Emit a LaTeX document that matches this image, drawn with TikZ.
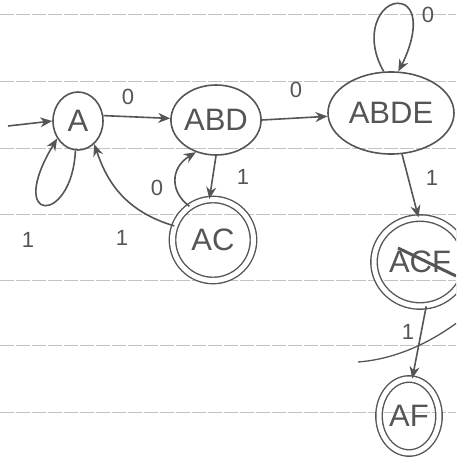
\documentclass[tikz,border=0pt]{standalone}
\usepackage{fontspec}
\setmainfont{Liberation Sans}
\usetikzlibrary{shapes.geometric,arrows.meta}
\definecolor{pencil}{RGB}{85,85,85}
\definecolor{ruled}{RGB}{195,195,195}
\tikzset{
  st/.style={draw=pencil, line width=1.6pt, shape=ellipse, inner sep=0pt, text=pencil,
    font=\fontsize{31}{31}\selectfont},
  acc/.style={st, double=white, double distance=5pt, line width=1.4pt},
  tr/.style={draw=pencil, line width=1.6pt, -{Stealth[length=12pt,width=10pt]}},
  lbl/.style={text=pencil, font=\fontsize{22}{22}\selectfont, inner sep=0pt},
  rule/.style={draw=ruled, line width=0.6pt, dash pattern=on 14pt off 2pt}
}
\begin{document}
\begin{tikzpicture}[x=1pt,y=-1pt]
\useasboundingbox (0,0) rectangle (456,458);
\clip (0,0) rectangle (456,458);
% ruled paper
\foreach \yy in {14,81,148,214,280,345,412}
  \draw[rule] (0,\yy) -- (456,\yy);
% states
\node[st, minimum width=50pt, minimum height=58pt] (A) at (78,121) {A};
\node[st, minimum width=90pt, minimum height=70pt] (ABD) at (216,120) {ABD};
\node[st, minimum width=126pt, minimum height=82pt] (ABDE) at (391,113) {ABDE};
\node[acc, minimum width=81pt, minimum height=81pt] (AC) at (213,240) {AC};
\node[acc, minimum width=92pt, minimum height=88pt] (ACF) at (420,262) {ACF};
\node[acc, minimum width=60pt, minimum height=74pt] (AF) at (409,416) {AF};
% strike over ACF label
\coordinate (s1) at (398,248);
\coordinate (s2) at (456,276);
\draw[pencil, line width=3pt] (s1) -- (s2);
% initial
\coordinate (init) at (8,126);
\draw[tr] (init) -- (A.west);
% A loop
\draw[tr] (A.265) .. controls (72,225) and (5,225) .. (A.220);
\node[lbl] (l1) at (28,240) {1};
% A -> ABD
\draw[tr] (A.12) -- (ABD.178);
\node[lbl] (l2) at (128,97) {0};
% ABD -> ABDE
\draw[tr] (ABD.east) -- (ABDE.183);
\node[lbl] (l3) at (296,90) {0};
% ABD -> AC
\draw[tr] (ABD.270) -- (AC.95);
\node[lbl] (l4) at (243,177) {1};
% AC -> ABD
\draw[tr] (AC.125) .. controls (170,192) and (170,168) .. (ABD.238);
\node[lbl] (l5) at (157,188) {0};
% AC -> A
\draw[tr] (AC.160) .. controls (120,210) and (105,175) .. (A.-55);
\node[lbl] (l6) at (122,238) {1};
% ABDE loop
\draw[tr] (ABDE.100) .. controls (360,30) and (385,-5) .. (405,5)
  .. controls (420,15) and (412,45) .. (ABDE.80);
\node[lbl] (l7) at (428,15) {0};
% ABDE -> ACF
\draw[tr] (ABDE.-75) -- (ACF.92);
\node[lbl] (l8) at (432,178) {1};
% ACF -> AF
\draw[tr] (ACF.-82) -- (AF.85);
\node[lbl] (l9) at (408,332) {1};
% stray stroke
\coordinate (r1) at (458,322);
\coordinate (r2) at (358,362);
\draw[pencil, line width=1.3pt] (r1) .. controls (420,350) and (385,360) .. (r2);
\end{tikzpicture}
\end{document}
